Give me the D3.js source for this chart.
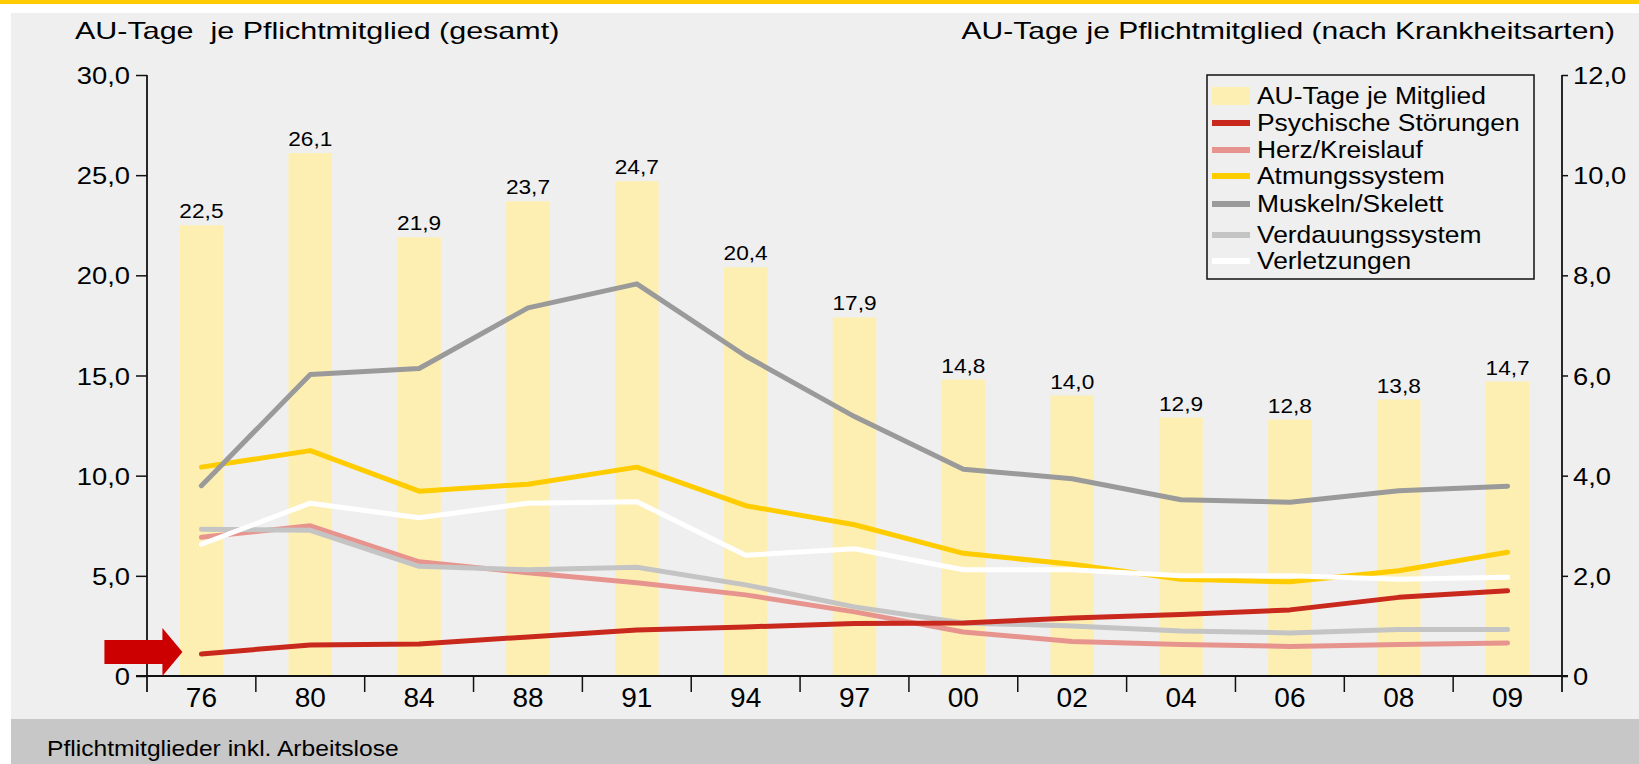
<!DOCTYPE html>
<html>
<head>
<meta charset="utf-8">
<script src="https://cdn.jsdelivr.net/npm/d3@7"></script>
<style>
  body { margin: 0; background: #fff; }
  text { font-family: "Liberation Sans", Arial, Helvetica, sans-serif; fill: #000; }
</style>
</head>
<body>
<div id="chart"></div>
<script>
// data
var years = ["76", "80", "84", "88", "91", "94", "97", "00", "02", "04", "06", "08", "09"];
var auTage = [22.5, 26.1, 21.9, 23.7, 24.7, 20.4, 17.9, 14.8, 14.0, 12.9, 12.8, 13.8, 14.7];

var psychische   = [0.44, 0.62, 0.64, 0.78, 0.92, 0.98, 1.05, 1.06, 1.16, 1.23, 1.32, 1.57, 1.70];
var herzKreislauf = [2.77, 3.00, 2.28, 2.06, 1.86, 1.62, 1.28, 0.88, 0.69, 0.63, 0.59, 0.63, 0.66];
var atmung       = [4.17, 4.50, 3.69, 3.83, 4.17, 3.40, 3.02, 2.45, 2.23, 1.93, 1.88, 2.10, 2.47];
var muskeln      = [3.80, 6.02, 6.14, 7.35, 7.83, 6.39, 5.18, 4.13, 3.94, 3.52, 3.47, 3.70, 3.79];
var verdauung    = [2.93, 2.91, 2.19, 2.12, 2.17, 1.82, 1.38, 1.06, 1.00, 0.90, 0.86, 0.93, 0.93];
var verletzungen = [2.63, 3.45, 3.16, 3.45, 3.48, 2.41, 2.54, 2.12, 2.12, 2.00, 2.00, 1.93, 1.97];

var leftTicks = [0, 5, 10, 15, 20, 25, 30];
var rightTicks = [0, 2, 4, 6, 8, 10, 12];

var legendNames = ["AU-Tage je Mitglied", "Psychische Störungen", "Herz/Kreislauf", "Atmungssystem",
                   "Muskeln/Skelett", "Verdauungssystem", "Verletzungen"];

var svgWidth = 1639;
var svgHeight = 764;

var axisLeftX = 147;
var axisRightX = 1562;
var yTop = 75;
var yBottom = 676;

var barColor = "#fdefb2";
var lineSeries = [
  { name: "Herz/Kreislauf", values: herzKreislauf, color: "#e8948e" },
  { name: "Verdauungssystem", values: verdauung, color: "#c4c4c4" },
  { name: "Psychische Störungen", values: psychische, color: "#c9281d" },
  { name: "Atmungssystem", values: atmung, color: "#ffcc00" },
  { name: "Verletzungen", values: verletzungen, color: "#ffffff" },
  { name: "Muskeln/Skelett", values: muskeln, color: "#9a9a9a" }
];
var legendColors = {
  "Psychische Störungen": "#c9281d", "Herz/Kreislauf": "#e8948e", "Atmungssystem": "#ffcc00",
  "Muskeln/Skelett": "#9a9a9a", "Verdauungssystem": "#c4c4c4", "Verletzungen": "#ffffff"
};

var fmt = function(d) { return d === 0 ? "0" : d3.format(".1f")(d).replace(".", ","); };

var svg = d3.select("#chart").append("svg")
  .attr("width", svgWidth)
  .attr("height", svgHeight);

// background pieces
svg.append("rect").attr("x", 0).attr("y", 0).attr("width", svgWidth).attr("height", svgHeight).attr("fill", "#fff");
svg.append("rect").attr("x", 0).attr("y", 0).attr("width", svgWidth).attr("height", 4).attr("fill", "#ffcc00");
svg.append("rect").attr("x", 11).attr("y", 13).attr("width", svgWidth - 11).attr("height", 706).attr("fill", "#efefef");
svg.append("rect").attr("x", 11).attr("y", 719).attr("width", svgWidth - 11).attr("height", 45).attr("fill", "#c7c7c7");

// helper: the original's text is a bit stretched horizontally
function stretchText(g, x, y, txt, size, sx, anchor) {
  return g.append("text")
    .attr("transform", `translate(${x},${y}) scale(${sx},1)`)
    .attr("font-size", size)
    .attr("text-anchor", anchor || "start")
    .style("white-space", "pre")
    .text(txt);
}

stretchText(svg, 75, 39, "AU-Tage\u00a0 je Pflichtmitglied (gesamt)", 24, 1.27);
stretchText(svg, 1615, 39, "AU-Tage je Pflichtmitglied (nach Krankheitsarten)", 24, 1.25, "end");
stretchText(svg, 47, 756, "Pflichtmitglieder inkl. Arbeitslose", 22, 1.12);

// scales
var xScale = d3.scaleBand().domain(years).range([axisLeftX, axisRightX]);
var yLeft = d3.scaleLinear().domain([0, 30]).range([yBottom, yTop]);
var yRight = d3.scaleLinear().domain([0, 12]).range([yBottom, yTop]);
var bw = xScale.bandwidth();

// bars
svg.append("g").selectAll("rect")
  .data(auTage)
  .enter()
  .append("rect")
  .attr("x", (d, i) => xScale(years[i]) + bw * 0.3)
  .attr("width", bw * 0.4)
  .attr("y", d => yLeft(d))
  .attr("height", d => yLeft(0) - yLeft(d))
  .attr("fill", barColor);

// bar values
svg.append("g").selectAll("text")
  .data(auTage)
  .enter()
  .append("text")
  .attr("transform", (d, i) => `translate(${xScale(years[i]) + bw / 2},${yLeft(d) - 7}) scale(1.08,1)`)
  .attr("text-anchor", "middle")
  .attr("font-size", 21)
  .text(d => fmt(d));

// lines
var line = d3.line()
  .x((d, i) => xScale(years[i]) + bw / 2)
  .y(d => yRight(d));

svg.append("g").selectAll("path")
  .data(lineSeries)
  .enter()
  .append("path")
  .attr("d", d => line(d.values))
  .attr("fill", "none")
  .attr("stroke", d => d.color)
  .attr("stroke-width", 5)
  .attr("stroke-linejoin", "round")
  .attr("stroke-linecap", "round");

// left axis
var leftAxis = d3.axisLeft(yLeft).tickValues(leftTicks).tickFormat(fmt).tickSize(11).tickSizeOuter(0);
var gl = svg.append("g").attr("transform", `translate(${axisLeftX},0)`).call(leftAxis);
gl.select(".domain").remove();
gl.selectAll("text").attr("font-size", 24).attr("transform", "scale(1.14,1)")
  .attr("x", -17 / 1.14).attr("dy", "0.36em");

// right axis
var rightAxis = d3.axisRight(yRight).tickValues(rightTicks).tickFormat(fmt).tickSize(6).tickSizeOuter(0);
var gr = svg.append("g").attr("transform", `translate(${axisRightX},0)`).call(rightAxis);
gr.select(".domain").remove();
gr.selectAll("text").attr("font-size", 24).attr("transform", "scale(1.14,1)")
  .attr("x", 11 / 1.14).attr("dy", "0.36em");

svg.selectAll(".tick line").attr("stroke", "#111").attr("stroke-width", 1.5);

// axis lines (extend below the baseline like in the original)
svg.append("line").attr("x1", axisLeftX).attr("x2", axisLeftX).attr("y1", yTop).attr("y2", yBottom + 16)
  .attr("stroke", "#111").attr("stroke-width", 1.8);
svg.append("line").attr("x1", axisRightX).attr("x2", axisRightX).attr("y1", yTop).attr("y2", yBottom + 16)
  .attr("stroke", "#111").attr("stroke-width", 1.8);

// bottom axis: labels centred, ticks between the bands
var bottomAxis = d3.axisBottom(xScale).tickSize(0).tickPadding(7);
var gb = svg.append("g").attr("transform", `translate(0,${yBottom})`).call(bottomAxis);
gb.select(".domain").remove();
gb.selectAll("text").attr("font-size", 28).attr("dy", "0.85em");

svg.append("line").attr("x1", axisLeftX - 11).attr("x2", axisRightX + 6).attr("y1", yBottom).attr("y2", yBottom)
  .attr("stroke", "#111").attr("stroke-width", 1.8);
svg.append("g").selectAll("line")
  .data(years.slice(1))
  .enter()
  .append("line")
  .attr("x1", d => xScale(d)).attr("x2", d => xScale(d))
  .attr("y1", yBottom).attr("y2", yBottom + 16)
  .attr("stroke", "#111").attr("stroke-width", 1.5);

// red arrow pointing at the first value of Psychische Störungen
var tipX = xScale(years[0]) + bw / 2 - 19;
var tipY = yRight(psychische[0]) - 2;
svg.append("path")
  .attr("d", `M${tipX - 78},${tipY - 12} L${tipX - 20},${tipY - 12} L${tipX - 20},${tipY - 24} L${tipX},${tipY} ` +
             `L${tipX - 20},${tipY + 24} L${tipX - 20},${tipY + 12} L${tipX - 78},${tipY + 12} Z`)
  .attr("fill", "#cc0000");

// legend
var legend = svg.append("g");
legend.append("rect")
  .attr("x", 1207).attr("y", 75).attr("width", 327).attr("height", 204)
  .attr("fill", "#efefef").attr("stroke", "#111").attr("stroke-width", 1.5);

var rowY = [96, 123, 150, 176, 204, 235, 261];
legendNames.forEach(function(name, i) {
  if (i === 0) {
    legend.append("rect").attr("x", 1212).attr("y", rowY[i] - 9).attr("width", 38).attr("height", 18).attr("fill", barColor);
  } else {
    legend.append("rect").attr("x", 1212).attr("y", rowY[i] - 3).attr("width", 38).attr("height", 6).attr("fill", legendColors[name]);
  }
  stretchText(legend, 1257, rowY[i] + 8, name, 24, 1.1);
});
</script>
</body>
</html>
